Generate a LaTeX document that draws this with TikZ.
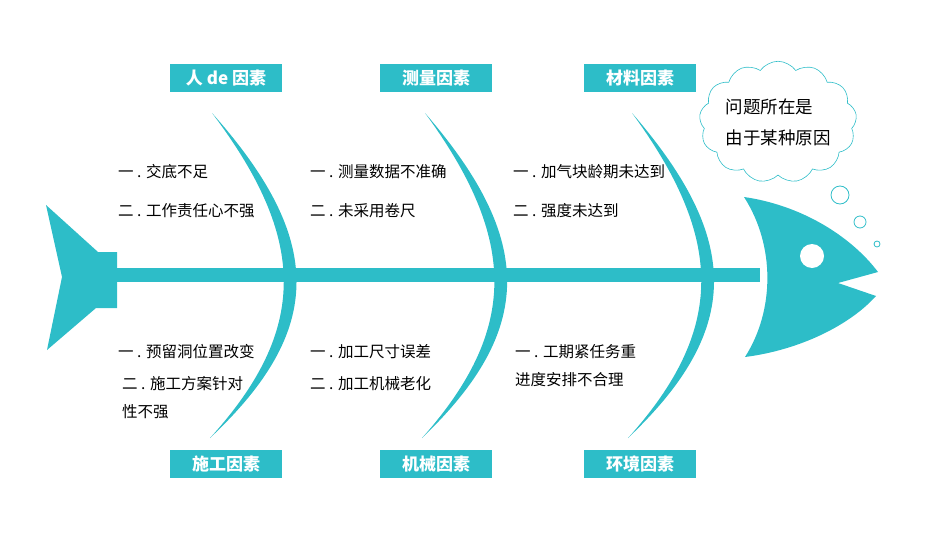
\documentclass[tikz,border=0pt]{standalone}
\usepackage{fontspec}
\setmainfont{Noto Sans CJK SC}
\usetikzlibrary{shapes.symbols}
\definecolor{fishteal}{RGB}{45,189,200}
\tikzset{
  factorbox/.style={fill=fishteal, text=white, font=\fontsize{17}{19}\selectfont\bfseries, minimum width=112pt, minimum height=28pt, inner sep=0pt},
  causetext/.style={anchor=west, font=\fontsize{15.5}{17}\selectfont, inner sep=0pt},
  bubble/.style={draw=fishteal, line width=0.8pt}
}
\begin{document}
\begin{tikzpicture}[x=1pt, y=-1pt]

  \useasboundingbox (0,0) rectangle (950,535);

  % spine and tail
  \fill[fishteal] (100,268) rectangle (760,282);
  \fill[fishteal] (46,205) -- (98,252) -- (117,252) -- (117,308) -- (96,308) -- (47,350) -- (62,277) -- cycle;

  % bones
  \fill[fishteal] (212,113) .. controls (325,240) and (325,330) .. (210,438)
    .. controls (308,330) and (308,240) .. (212,113);
  \fill[fishteal] (425,113) .. controls (535,240) and (535,330) .. (422,438)
    .. controls (518,330) and (518,240) .. (425,113);
  \fill[fishteal] (632,113) .. controls (742,240) and (742,330) .. (628,438)
    .. controls (725,330) and (725,240) .. (632,113);

  % head
  \fill[fishteal] (744,197) .. controls (800,205) and (850,235) .. (878,272)
    -- (838,283) -- (876,296)
    .. controls (850,325) and (800,350) .. (745,357)
    .. controls (775,310) and (775,245) .. (744,197);
  \fill[white] (812,256) circle (12);

  % bubbles and cloud
  \draw[bubble] (840,195) circle (9);
  \draw[bubble] (860,222) circle (6);
  \draw[bubble] (877,244) circle (3);
  \node[cloud, draw=fishteal, line width=0.6pt, cloud puffs=13, cloud puff arc=110, aspect=1.4, minimum width=150pt, minimum height=110pt, align=left, font=\fontsize{17.5}{31}\selectfont, inner sep=0pt] (thought) at (778,122) {问题所在是\\由于某种原因};

  % factor boxes
  \node[factorbox] (people) at (226,78) {人 de 因素};
  \node[factorbox] (measure) at (436,78) {测量因素};
  \node[factorbox] (material) at (640,78) {材料因素};
  \node[factorbox] (construct) at (226,464) {施工因素};
  \node[factorbox] (machine) at (436,464) {机械因素};
  \node[factorbox] (environ) at (640,464) {环境因素};

  % causes
  \node[causetext] (p1) at (118,172) {一 . 交底不足};
  \node[causetext] (p2) at (118,211) {二 . 工作责任心不强};
  \node[causetext] (m1) at (310,172) {一 . 测量数据不准确};
  \node[causetext] (m2) at (310,211) {二 . 未采用卷尺};
  \node[causetext] (t1) at (513,172) {一 . 加气块龄期未达到};
  \node[causetext] (t2) at (513,211) {二 . 强度未达到};
  \node[causetext] (c1) at (118,352) {一 . 预留洞位置改变};
  \node[causetext] (c2) at (122,384) {二 . 施工方案针对};
  \node[causetext] (c3) at (122,412) {性不强};
  \node[causetext] (k1) at (310,352) {一 . 加工尺寸误差};
  \node[causetext] (k2) at (310,384) {二 . 加工机械老化};
  \node[causetext] (e1) at (515,352) {一 . 工期紧任务重};
  \node[causetext] (e2) at (515,380) {进度安排不合理};

\end{tikzpicture}
\end{document}
